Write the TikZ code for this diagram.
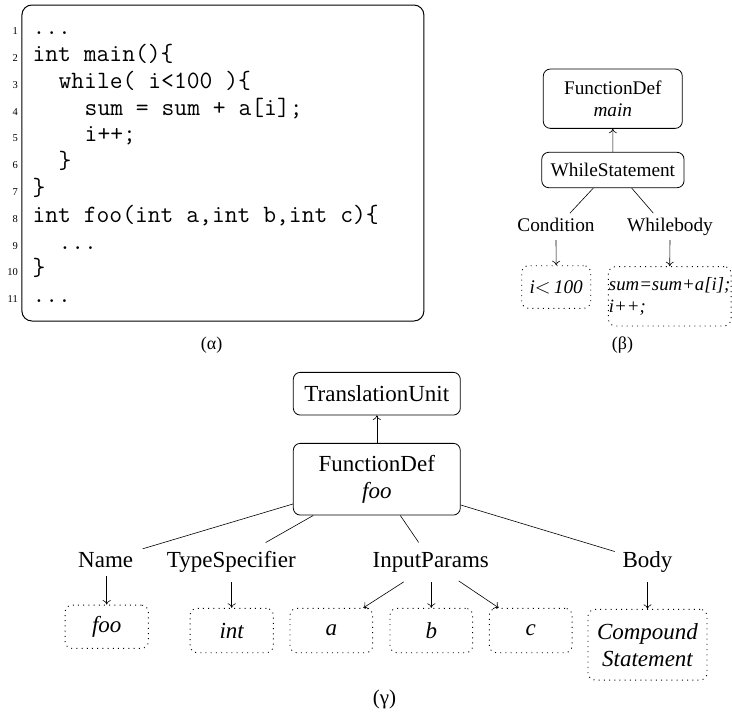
\documentclass[tikz,border=0pt]{standalone}
\usepackage{fontspec}
\setmainfont{Liberation Serif}
\usetikzlibrary{arrows.meta,calc}
\begin{document}
\begin{tikzpicture}[x=1pt,y=-1pt,
  % text sizes: small tree (beta) and large tree (gamma)
  stxt/.style={font=\fontsize{19.3}{22.5}\selectfont},
  ltxt/.style={font=\fontsize{23}{27}\selectfont},
  lital/.style={font=\fontsize{23}{27}\selectfont\itshape},
  box/.style={draw, line width=0.8pt, rounded corners=7pt, inner sep=0pt, align=center},
  dbox/.style={draw, dash pattern=on 1pt off 4.2pt, line width=0.9pt, rounded corners=7pt, inner sep=0pt, align=center},
  slbl/.style={stxt, inner sep=0pt, anchor=base, text height=13pt, text depth=4pt},
  llbl/.style={ltxt, inner sep=0pt, anchor=base, text height=16pt, text depth=5pt},
  edge/.style={line width=0.6pt},
  arr/.style={edge, -{To[length=4.5pt,width=8pt]}},
  code/.style={inner sep=0pt, anchor=base west, font=\fontsize{24.9}{26.8}\selectfont\ttfamily},
  lno/.style={inner sep=0pt, anchor=base east, font=\fontsize{10.5}{12}\selectfont}]
\useasboundingbox (0,0) rectangle (732,716);

% ---------- (alpha): source listing ----------
\node[draw, line width=1pt, rounded corners=10pt, minimum width=402pt, minimum height=316pt, inner sep=0pt] (listing) at (222.9,163) {};
\node[lno] (n1)  at (18,34.7)  {1};
\node[lno] (n2)  at (18,61.5)  {2};
\node[lno] (n3)  at (18,88.3)  {3};
\node[lno] (n4)  at (18,115.1) {4};
\node[lno] (n5)  at (18,141.9) {5};
\node[lno] (n6)  at (18,168.7) {6};
\node[lno] (n7)  at (18,195.5) {7};
\node[lno] (n8)  at (18,222.3) {8};
\node[lno] (n9)  at (18,249.1) {9};
\node[lno] (n10) at (18,275.9) {10};
\node[lno] (n11) at (18,302.7) {11};
\node[code] (l1)  at (32.3,34.7)  {...};
\node[code] (l2)  at (32.3,61.5)  {int main()\{};
\node[code] (l3)  at (58.4,88.3)  {while( i<100 )\{};
\node[code] (l4)  at (84.5,115.1) {sum = sum + a[i];};
\node[code] (l5)  at (84.5,141.9) {i++;};
\node[code] (l6)  at (58.4,168.7) {\}};
\node[code] (l7)  at (32.3,195.5) {\}};
\node[code] (l8)  at (32.3,222.3) {int foo(int a,int b,int c)\{};
\node[code] (l9)  at (58.4,249.1) {...};
\node[code] (l10) at (32.3,275.9) {\}};
\node[code] (l11) at (32.3,302.7) {...};
\node[font=\fontsize{18}{22}\selectfont] (capa) at (211.7,345) {(α)};

% ---------- (beta): AST of main ----------
\node[box, stxt, minimum width=139pt, minimum height=59.3pt] (fdmain) at (612.8,98.7) {FunctionDef\\\textit{main}};
\node[box, stxt, minimum width=142.3pt, minimum height=35.4pt] (while) at (612.9,170) {WhileStatement};
\node[slbl] (cond) at (556,231.7) {Condition};
\node[slbl] (wbody) at (670,231.7) {Whilebody};
\node[dbox, stxt, minimum width=69pt, minimum height=42.6pt] (condv) at (556.2,287) {\textit{i}$<$\,\textit{100}};
\node[dbox, minimum width=122.7pt, minimum height=59.3pt, align=left, font=\fontsize{18.8}{22.5}\selectfont\itshape] (wbodyv) at (669.7,296.3) {sum=sum+a[i];\\i++;};
\node[font=\fontsize{18}{22}\selectfont] (capb) at (622.5,345) {(β)};

\draw[arr] (while.north) -- (fdmain.south);
\draw[edge] ([xshift=-19.6pt]while.south) -- ([xshift=14pt,yshift=5.4pt]cond.north);
\draw[edge] ([xshift=18.8pt]while.south) -- ([xshift=-16.7pt,yshift=5.4pt]wbody.north);
\draw[arr] ([yshift=-4.3pt]cond.south) -- (condv.north);
\draw[arr] ([yshift=-4.3pt]wbody.south) -- (wbodyv.north);

% ---------- (gamma): AST of foo ----------
\node[box, ltxt, minimum width=167pt, minimum height=42.7pt] (tu) at (376.8,393.7) {TranslationUnit};
\node[box, ltxt, minimum width=167pt, minimum height=71.7pt] (fdfoo) at (376.8,479.2) {FunctionDef\\\textit{foo}};
\node[llbl] (name) at (105.7,567.3) {Name};
\node[llbl] (type) at (231.3,567.3) {TypeSpecifier};
\node[llbl] (params) at (430.8,567.3) {InputParams};
\node[llbl] (body) at (647.5,567.3) {Body};
\node[dbox, lital, minimum width=83.3pt, minimum height=43.3pt] (namev) at (106.7,626.7) {foo};
\node[dbox, lital, minimum width=83.3pt, minimum height=44.4pt] (typev) at (231.7,630.5) {int};
\node[dbox, lital, minimum width=82.7pt, minimum height=44.4pt] (pa) at (331.3,630.5) {a};
\node[dbox, lital, minimum width=82.7pt, minimum height=44.4pt] (pb) at (431.3,630.5) {b};
\node[dbox, lital, minimum width=82.7pt, minimum height=44.4pt] (pc) at (530.7,630.5) {c};
\node[dbox, lital, minimum width=119pt, minimum height=70.7pt] (bodyv) at (647.5,644.7) {Compound\\Statement};
\node[font=\fontsize{21}{25}\selectfont] (capc) at (384.5,699) {(γ)};

\draw[arr] (fdfoo.north) -- (tu.south);
\draw[edge] ([yshift=-24.8pt]fdfoo.west) -- ([xshift=37pt,yshift=2.3pt]name.north);
\draw[edge] ([xshift=-63.5pt]fdfoo.south) -- ([xshift=34.4pt,yshift=8.6pt]type.north);
\draw[edge] ([xshift=23.5pt]fdfoo.south) -- ([xshift=-12.1pt,yshift=8.6pt]params.north);
\draw[edge] ([yshift=-25.8pt]fdfoo.east) -- ([xshift=-32.8pt,yshift=-0.4pt]body.north);
\draw[arr] ([xshift=1pt,yshift=-3.7pt]name.south) -- (namev.north);
\draw[arr] ([xshift=0.4pt,yshift=-9.4pt]type.south) -- (typev.north);
\draw[arr] ([xshift=-27.1pt,yshift=-9.4pt]params.south) -- ([xshift=32pt]pa.north);
\draw[arr] ([xshift=0.5pt,yshift=-9.4pt]params.south) -- (pb.north);
\draw[arr] ([xshift=27.9pt,yshift=-8.4pt]params.south) -- ([xshift=-32pt]pc.north);
\draw[arr] ([yshift=-9.4pt]body.south) -- (bodyv.north);
\end{tikzpicture}
\end{document}
